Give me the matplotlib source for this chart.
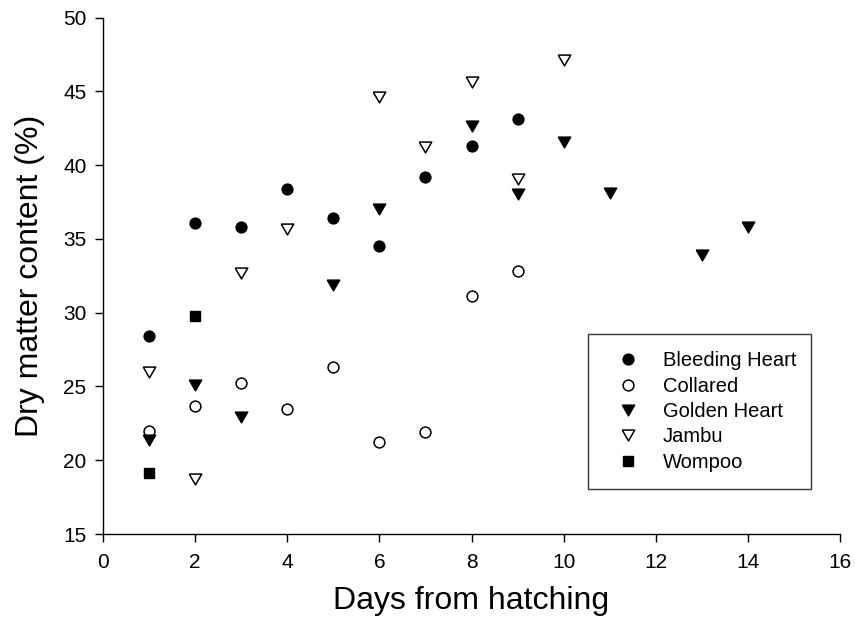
import matplotlib
matplotlib.use("Agg")
import matplotlib.pyplot as plt

plt.rcParams['font.family'] = ['Liberation Sans', 'DejaVu Sans']

bh_days = [1, 2, 3, 4, 5, 6, 7, 8, 9]
bh_vals = [28.4, 36.1, 35.8, 38.4, 36.4, 34.5, 39.2, 41.3, 43.1]

col_days = [1, 2, 3, 4, 5, 6, 7, 8, 9]
col_vals = [21.95, 23.65, 25.2, 23.5, 26.3, 21.25, 21.9, 31.1, 32.8]

gh_days = [1, 2, 3, 5, 6, 8, 9, 10, 11, 13, 14]
gh_vals = [21.35, 25.1, 22.95, 31.9, 37.05, 42.65, 38.05, 41.55, 38.1, 33.9, 35.8]

jam_days = [1, 2, 3, 4, 6, 7, 8, 9, 10]
jam_vals = [26.0, 18.75, 32.7, 35.7, 44.6, 41.2, 45.65, 39.05, 47.1]

wom_days = [1, 2]
wom_vals = [19.15, 29.8]

x_ticks = [0, 2, 4, 6, 8, 10, 12, 14, 16]
y_ticks = [15, 20, 25, 30, 35, 40, 45, 50]

# equilateral downward triangle marker
tri_down = [(-1, 0.866), (1, 0.866), (0, -0.866), (-1, 0.866)]

fig = plt.figure(figsize=(8.55, 6.35), dpi=100)
ax = fig.add_axes([103/855, 1 - 534/635, (840 - 103)/855, (534 - 17.5)/635])

ms_c = 7.8
ms_t = 9.0
ax.plot(bh_days, bh_vals, 'o', color='black', ms=ms_c, mew=1, ls='none', label='Bleeding Heart')
ax.plot(col_days, col_vals, 'o', mfc='white', mec='black', mew=1.1, ms=ms_c, ls='none', label='Collared')
ax.plot(gh_days, gh_vals, marker=tri_down, color='black', ms=ms_t, mew=1, ls='none', label='Golden Heart')
ax.plot(jam_days, jam_vals, marker=tri_down, mfc='white', mec='black', mew=1.1, ms=ms_t, ls='none', label='Jambu')
ax.plot(wom_days, wom_vals, 's', color='black', ms=7.4, mew=1, ls='none', label='Wompoo')

ax.set_xlim(0, 16)
ax.set_ylim(15, 50)
ax.set_xticks(x_ticks)
ax.set_yticks(y_ticks)
ax.spines['top'].set_visible(False)
ax.spines['right'].set_visible(False)
for s in ('left', 'bottom'):
    ax.spines[s].set_linewidth(1.0)
ax.tick_params(direction='out', length=5.8, width=1.0, labelsize=15)
ax.tick_params(axis='x', pad=8)
ax.tick_params(axis='y', pad=6)

ax.set_xlabel('Days from hatching', fontsize=23, labelpad=10)
ax.set_ylabel('Dry matter content (%)', fontsize=23, labelpad=13)

leg = ax.legend(loc='upper left', bbox_to_anchor=((588 - 103)/737, (534 - 334)/516.5,
                                                 (811 - 588)/737, 0.0),
                mode='expand', fontsize=14.5, markerscale=1.0, frameon=True, fancybox=False,
                edgecolor='black', borderpad=0.85, labelspacing=0.32, handletextpad=0.55,
                handlelength=2.3, borderaxespad=0)
leg.get_frame().set_linewidth(1.0)

fig.savefig('out.png', dpi=100)
